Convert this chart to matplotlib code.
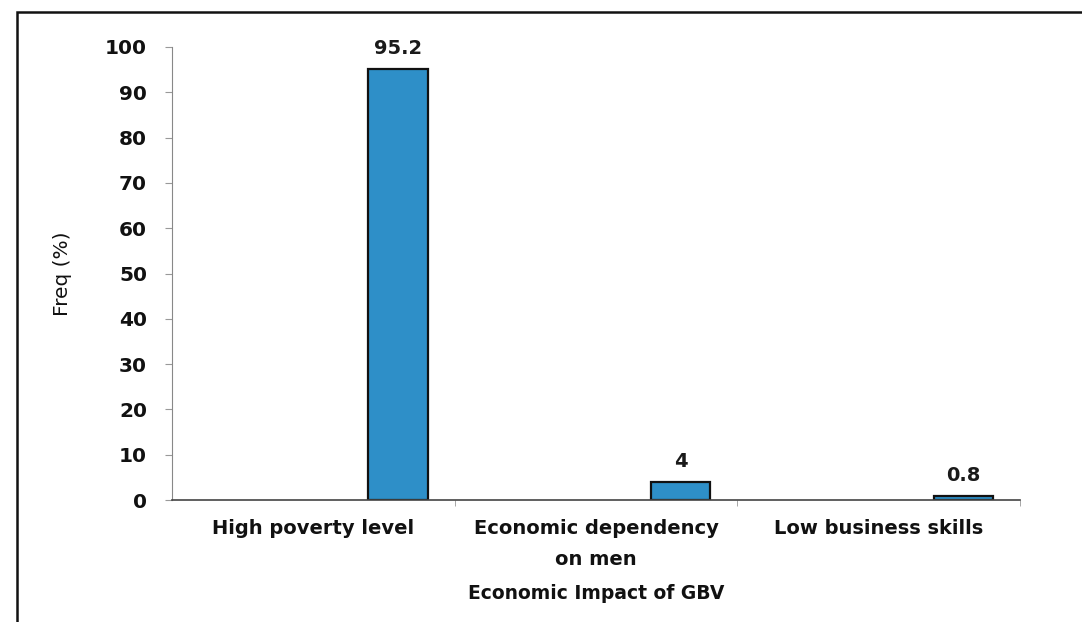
import matplotlib.pyplot as plt
from matplotlib.patches import Rectangle

impactos = ["High poverty level", "Economic dependency\non men", "Low business skills"]
frequencias = [95.2, 4, 0.8]
rotulos_y = [0, 10, 20, 30, 40, 50, 60, 70, 80, 90, 100]

plt.rcParams['font.family'] = ['DejaVu Sans']
plt.rcParams['font.weight'] = 'bold'

fig = plt.figure(figsize=(10.82, 6.22), dpi=100)
ax = fig.add_axes([172 / 1082, 1 - 500 / 622, 848 / 1082, 453 / 622])

# barras deslocadas para a direita de cada categoria
pos = [i + 0.3 for i in range(len(impactos))]
barras = ax.bar(pos, frequencias, width=0.21, color='#2e8fc8',
                edgecolor='#111111', linewidth=1.6)

for b, v in zip(barras, frequencias):
    ax.annotate(f"{v:g}", (b.get_x() + b.get_width() / 2, v),
                xytext=(0, 8), textcoords='offset points',
                ha='center', va='bottom', fontsize=14, color='#1a1a1a')

ax.set_xlim(-0.5, len(impactos) - 0.5)
ax.set_ylim(0, 100)
ax.set_yticks(rotulos_y)
ax.tick_params(axis='y', labelsize=14.5, length=5, color='#999999', pad=13,
               labelcolor='#111111')
ax.set_xticks(range(len(impactos)))
ax.set_xticklabels(impactos, fontsize=14, color='#111111', linespacing=1.75)
ax.tick_params(axis='x', length=0, pad=14)
ax.set_xticks([0.5, 1.5, 2.5], minor=True)
ax.tick_params(axis='x', which='minor', length=4, color='#999999')

for lado in ['top', 'right']:
    ax.spines[lado].set_visible(False)
ax.spines['left'].set_color('#888888')
ax.spines['bottom'].set_color('#444444')
ax.spines['bottom'].set_linewidth(1.2)

ax.set_ylabel("Freq (%)", fontsize=14.5, fontweight='normal', labelpad=24,
              color='#111111')
ax.set_xlabel("Economic Impact of GBV", fontsize=13.5, fontweight='bold',
              labelpad=11, color='#111111')

# moldura externa do gráfico
fig.patches.append(Rectangle((17 / 1082, -0.05), 1.1, 1 - 12 / 622 + 0.05,
                             transform=fig.transFigure, fill=False,
                             edgecolor='#111111', linewidth=1.8))

fig.savefig("out.png", dpi=100)
